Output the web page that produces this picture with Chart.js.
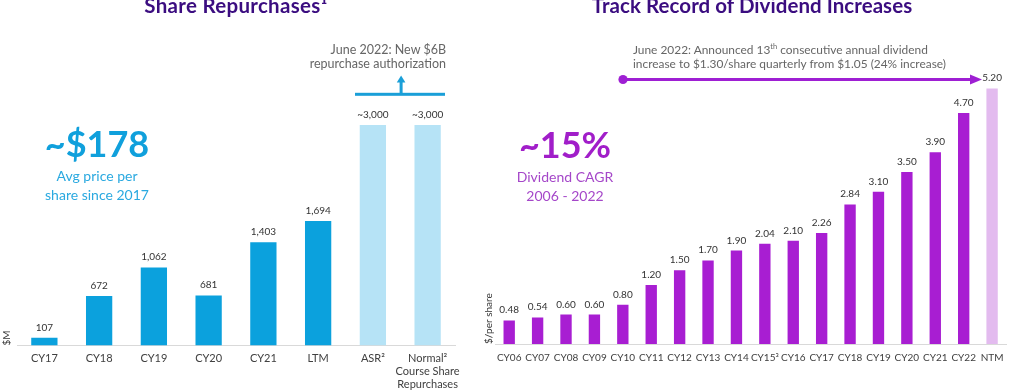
<!DOCTYPE html>
<html>
<head>
<meta charset="utf-8">
<script src="https://cdn.jsdelivr.net/npm/chart.js@4.4.1/dist/chart.umd.min.js"></script>
<style>
    body { margin: 0; width: 1011px; height: 391px; overflow: hidden; background: #fff; position: relative; font-family: Lato, sans-serif; }
    .box { position: absolute; top: 0; height: 391px; }
    #leftBox { left: 0; width: 470px; }
    #rightBox { left: 470px; width: 541px; }
    .t { position: absolute; white-space: nowrap; line-height: 1; }
    .c { transform: translateX(-50%); text-align: center; }
    .title { font-weight: 700; font-size: 20.5px; color: #3b0d80; top: -5px; }
    .big { font-weight: 700; font-size: 36px; }
    .sub { font-size: 14px; }
    .note { color: #666; }
    svg { position: absolute; left: 0; top: 0; }
</style>
</head>
<body>
<div class="box" id="leftBox"><canvas id="buybackchart"></canvas></div>
<div class="box" id="rightBox"><canvas id="dividendchart"></canvas></div>

<div class="t c title" style="left:236px;letter-spacing:0.3px">Share Repurchases¹</div>
<div class="t c title" style="left:752px;letter-spacing:0.05px">Track Record of Dividend Increases</div>

<div class="t c big" style="left:97px;top:125px;color:#10a0dc">~$178</div>
<div class="t c sub" style="left:97px;top:169.3px;color:#2aa9e0">Avg price per</div>
<div class="t c sub" style="left:97px;top:187.6px;color:#2aa9e0">share since 2017</div>

<div class="t c big" style="left:565px;top:125.5px;color:#a11ec9">~15%</div>
<div class="t c sub" style="left:565px;top:170.3px;color:#a547c9">Dividend CAGR</div>
<div class="t c sub" style="left:565px;top:188.8px;color:#a547c9">2006 - 2022</div>

<div class="t note" style="right:565px;top:43.5px;font-size:12.5px">June 2022: New $6B</div>
<div class="t note" style="right:565px;top:57.5px;font-size:12.5px">repurchase authorization</div>
<div class="t note" style="left:633px;top:43.6px;font-size:11.9px">June 2022: Announced 13<sup style="font-size:7.5px;line-height:0">th</sup> consecutive annual dividend</div>
<div class="t note" style="left:633px;top:58px;font-size:11.9px">increase to $1.30/share quarterly from $1.05 (24% increase)</div>

<svg width="1011" height="391">
    <rect x="355" y="92.8" width="90" height="3" fill="#1a9fd8"></rect>
    <rect x="399.6" y="81" width="3" height="12" fill="#1a9fd8"></rect>
    <polygon points="401.1,75.5 396.8,82.5 405.4,82.5" fill="#1a9fd8"></polygon>
    <rect x="623" y="78" width="350" height="3" fill="#9e1fd3"></rect>
    <circle cx="623" cy="79.5" r="4.6" fill="#9e1fd3"></circle>
    <polygon points="982,79.5 970,74.5 970,84.5" fill="#9e1fd3"></polygon>
</svg>

<script>
"use strict";

/* share repurchases, $M */
var buyLabels = ['CY17', 'CY18', 'CY19', 'CY20', 'CY21', 'LTM', 'ASR²', ['Normal²', 'Course Share', 'Repurchases']];
var buyValues = [107, 672, 1062, 681, 1403, 1694, 3000, 3000];
var buyPlanned = [false, false, false, false, false, false, true, true];

/* dividend per share, $ */
var divLabels = ['CY06', 'CY07', 'CY08', 'CY09', 'CY10', 'CY11', 'CY12', 'CY13', 'CY14', 'CY15³', 'CY16', 'CY17', 'CY18', 'CY19', 'CY20', 'CY21', 'CY22', 'NTM'];
var divValues = [0.48, 0.54, 0.60, 0.60, 0.80, 1.20, 1.50, 1.70, 1.90, 2.04, 2.10, 2.26, 2.84, 3.10, 3.50, 3.90, 4.70, 5.20];
var divForward = [false, false, false, false, false, false, false, false, false, false, false, false, false, false, false, false, false, true];

document.addEventListener("DOMContentLoaded", function () {

    /* value above each bar */
    var valueLabels = {
        id: 'valueLabels',
        afterDatasetsDraw: function (chart, args, opts) {
            var ctx = chart.ctx;
            var meta = chart.getDatasetMeta(0);
            var data = chart.data.datasets[0].data;
            ctx.save();
            ctx.font = opts.font;
            ctx.fillStyle = '#333';
            ctx.textAlign = 'center';
            ctx.textBaseline = 'alphabetic';
            meta.data.forEach(function (bar, i) {
                ctx.fillText(opts.format(data[i], i), bar.x, bar.y - opts.gap);
            });
            ctx.restore();
        }
    };

    /* repurchase chart */
    var buyCtx = document.getElementById('buybackchart').getContext('2d');
    new Chart(buyCtx, {
        type: 'bar',
        data: {
            labels: buyLabels,
            datasets: [{
                data: buyValues,
                backgroundColor: buyPlanned.map(function (p) { return p ? '#b6e3f6' : '#0ba1dd'; }),
                barPercentage: 0.48,
                categoryPercentage: 1,
            }]
        },
        plugins: [valueLabels],
        options: {
            animation: false,
            responsive: true,
            maintainAspectRatio: false,
            layout: { padding: { top: 95.5, right: 15, bottom: 0, left: 0 } },
            plugins: {
                legend: { display: false },
                tooltip: { enabled: false },
                valueLabels: {
                    font: '10px Lato',
                    gap: 7,
                    format: function (v, i) {
                        return (buyPlanned[i] ? '~' : '') + v.toLocaleString('en-US');
                    }
                }
            },
            scales: {
                y: {
                    min: 0,
                    max: 3400,
                    grid: { display: false, drawTicks: false },
                    border: { display: false },
                    ticks: { display: false },
                    title: {
                        display: true,
                        text: '$M',
                        align: 'start',
                        color: '#333',
                        font: { family: 'Lato', size: 10 },
                        padding: { top: 1, bottom: 4 }
                    }
                },
                x: {
                    afterFit: function (scale) { scale.height = 45.5; },
                    grid: { display: false, drawTicks: false },
                    border: { display: true, color: '#d9d9d9' },
                    ticks: {
                        color: '#404040',
                        padding: 6,
                        maxRotation: 0,
                        autoSkip: false,
                        font: { family: 'Lato', size: 11 }
                    }
                }
            }
        }
    });

    /* dividend chart */
    var divCtx = document.getElementById('dividendchart').getContext('2d');
    new Chart(divCtx, {
        type: 'bar',
        data: {
            labels: divLabels,
            datasets: [{
                data: divValues,
                backgroundColor: divForward.map(function (f) { return f ? '#e3bbef' : '#a81ed2'; }),
                barPercentage: 0.4,
                categoryPercentage: 1,
            }]
        },
        plugins: [valueLabels],
        options: {
            animation: false,
            responsive: true,
            maintainAspectRatio: false,
            layout: { padding: { top: 78.6, right: 0, bottom: 0, left: 11 } },
            plugins: {
                legend: { display: false },
                tooltip: { enabled: false },
                valueLabels: {
                    font: '10px Lato',
                    gap: 7,
                    format: function (v) { return v.toFixed(2); }
                }
            },
            scales: {
                y: {
                    min: 0,
                    max: 5.4,
                    grid: { display: false, drawTicks: false },
                    border: { display: false },
                    ticks: { display: false },
                    title: {
                        display: true,
                        text: '$/per share',
                        align: 'start',
                        color: '#333',
                        font: { family: 'Lato', size: 10 },
                        padding: { top: 2, bottom: 0 }
                    }
                },
                x: {
                    afterFit: function (scale) { scale.height = 47; },
                    grid: { display: false, drawTicks: false },
                    border: { display: true, color: '#d9d9d9' },
                    ticks: {
                        color: '#404040',
                        padding: 7.5,
                        maxRotation: 0,
                        autoSkip: false,
                        font: { family: 'Lato', size: 10 }
                    }
                }
            }
        }
    });
})
</script>
</body>
</html>
